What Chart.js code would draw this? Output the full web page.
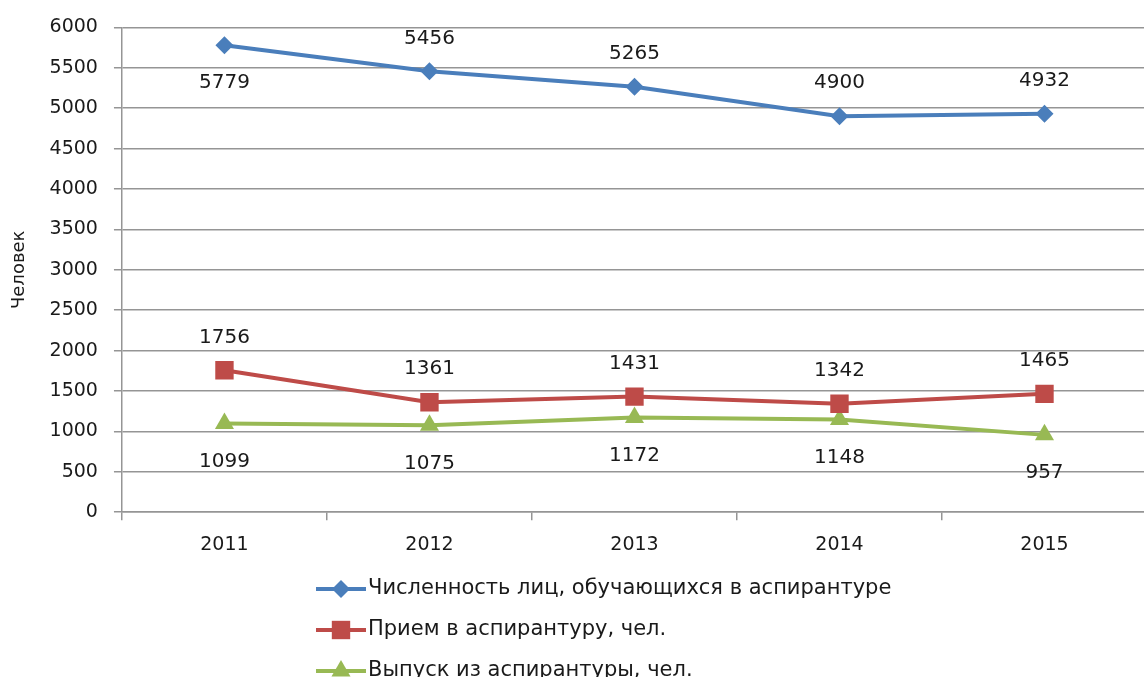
<!DOCTYPE html>
<html>
<head>
<meta charset="utf-8">
<script src="https://cdn.jsdelivr.net/npm/chart.js@4.4.0/dist/chart.umd.min.js"></script>
<style>
  html, body { margin: 0; padding: 0; background: #fff; overflow: hidden; }
  #wrap { width: 1160px; height: 677px; position: relative; }
</style>
</head>
<body>
<div id="wrap"><canvas id="chart"></canvas></div>
<script>
const years = ['2011', '2012', '2013', '2014', '2015'];
const students = [5779, 5456, 5265, 4900, 4932];
const admitted = [1756, 1361, 1431, 1342, 1465];
const graduated = [1099, 1075, 1172, 1148, 957];
const seriesNames = [
  'Численность лиц, обучающихся в аспирантуре',
  'Прием в аспирантуру, чел.',
  'Выпуск из аспирантуры, чел.'
];
const yTitle = 'Человек';

// where each value label sits relative to its point
const labelSides = [
  ['below', 'above', 'above', 'above', 'above'],
  ['above', 'above', 'above', 'above', 'above'],
  ['below', 'below', 'below', 'below', 'below']
];

const FONT = 'DejaVu Sans';
const TEXT = '#1a1a1a';
const GRID = '#959595';

const valueLabels = {
  id: 'valueLabels',
  afterDatasetsDraw(chart) {
    const ctx = chart.ctx;
    ctx.save();
    ctx.font = '20px "' + FONT + '"';
    ctx.fillStyle = TEXT;
    ctx.textAlign = 'center';
    ctx.textBaseline = 'middle';
    chart.data.datasets.forEach((ds, i) => {
      chart.getDatasetMeta(i).data.forEach((pt, j) => {
        const dy = labelSides[i][j] === 'above' ? -33 : 38;
        ctx.fillText(String(ds.data[j]), pt.x, pt.y + dy);
      });
    });
    ctx.restore();
  }
};

const stackedLegend = {
  id: 'stackedLegend',
  afterDraw(chart, args, opts) {
    const ctx = chart.ctx;
    ctx.save();
    chart.data.datasets.forEach((ds, i) => {
      const y = opts.top + i * opts.gap;
      ctx.strokeStyle = ds.borderColor;
      ctx.lineWidth = 4;
      ctx.beginPath();
      ctx.moveTo(opts.left, y);
      ctx.lineTo(opts.left + 50, y);
      ctx.stroke();
      ctx.fillStyle = ds.borderColor;
      Chart.helpers.drawPoint(ctx, {
        pointStyle: ds.pointStyle,
        radius: ds.pointRadius,
        borderWidth: 0,
        rotation: 0
      }, opts.left + 25, y);
      ctx.fillStyle = TEXT;
      ctx.font = '21px "' + FONT + '"';
      ctx.textBaseline = 'middle';
      ctx.textAlign = 'left';
      ctx.fillText(ds.label, opts.left + 52, y);
    });
    ctx.restore();
  }
};

function series(label, data, color, style, radius) {
  return {
    label: label,
    data: data,
    borderColor: color,
    backgroundColor: color,
    borderWidth: 4,
    pointStyle: style,
    pointRadius: radius,
    pointHoverRadius: radius,
    pointBorderWidth: 0,
    tension: 0
  };
}

new Chart(document.getElementById('chart'), {
  type: 'line',
  data: {
    labels: years,
    datasets: [
      series(seriesNames[0], students, '#4a7ebb', 'rectRot', 9),
      series(seriesNames[1], admitted, '#be4b48', 'rect', 13),
      series(seriesNames[2], graduated, '#98b954', 'triangle', 11)
    ]
  },
  options: {
    responsive: true,
    maintainAspectRatio: false,
    animation: false,
    layout: { padding: { left: 6, right: 7, top: 19, bottom: 108 } },
    plugins: {
      legend: { display: false },
      tooltip: { enabled: false },
      stackedLegend: { left: 316, top: 589, gap: 41 }
    },
    scales: {
      x: {
        offset: true,
        grid: { display: true, offset: true, drawOnChartArea: false, tickLength: 8, color: GRID, lineWidth: 1.5 },
        border: { display: true, color: GRID, width: 1.5 },
        ticks: { font: { family: FONT, size: 19 }, color: TEXT, padding: 13 }
      },
      y: {
        min: 0,
        max: 6000,
        ticks: {
          stepSize: 500,
          font: { family: FONT, size: 19 },
          color: TEXT,
          padding: 16,
          callback: v => String(v)
        },
        grid: { color: GRID, lineWidth: 1.5, tickLength: 8 },
        border: { display: true, color: GRID, width: 1.5 },
        title: { display: true, text: yTitle, font: { family: FONT, size: 18 }, color: TEXT, padding: 3 }
      }
    }
  },
  plugins: [valueLabels, stackedLegend]
});
</script>
</body>
</html>
